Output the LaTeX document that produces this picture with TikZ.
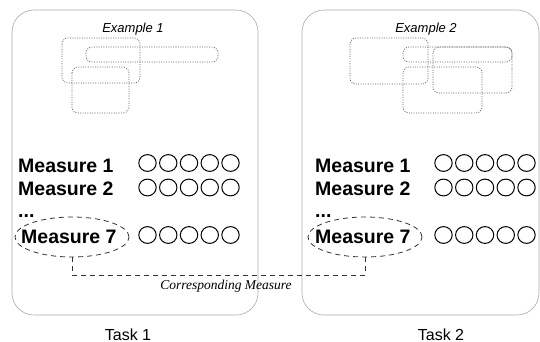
\documentclass[tikz,border=0pt]{standalone}
\usepackage{fontspec}
\setmainfont{Liberation Sans}
\newfontfamily\capfont{Liberation Serif}
\usepackage{tikz}
\usetikzlibrary{shapes.geometric, positioning, calc}
\definecolor{panelgray}{RGB}{170, 170, 170}
\definecolor{boxgray}{RGB}{95, 95, 95}
\definecolor{linkgray}{RGB}{50, 50, 50}

\begin{document}
\begin{tikzpicture}[x=1pt, y=-1pt,
    panel/.style={draw=panelgray, line width=0.6pt, rounded corners=22},
    region/.style={draw=boxgray, dash pattern=on 1pt off 1.4pt, line width=0.7pt, rounded corners=6},
    measure/.style={anchor=base west, inner sep=0pt, font=\fontsize{19.5}{20}\selectfont\bfseries},
    pick/.style={draw=black, line width=1pt},
    focus/.style={draw=linkgray, ellipse, dashed, dash pattern=on 5pt off 4pt, line width=0.8pt, inner sep=0pt, minimum width=114, minimum height=40}]
    \useasboundingbox (0,0) rectangle (540,342);
    % two task panels
    \draw[panel] (12,10) rectangle (258,315);
    \draw[panel] (302,10) rectangle (539,315);
    \node[anchor=base, font=\fontsize{13}{14}\selectfont\itshape] (ex1) at (133,33) {Example 1};
    \node[anchor=base, font=\fontsize{13}{14}\selectfont\itshape] (ex2) at (426,33) {Example 2};
    % regions of example 1
    \draw[region] (62,38) rectangle (140,83);
    \draw[region] (86,47) rectangle (218,62);
    \draw[region] (72,67) rectangle (129,113);
    % regions of example 2
    \draw[region] (350,38) rectangle (428,84);
    \draw[region] (403,47) rectangle (512,62);
    \draw[region] (433,47) rectangle (512,93);
    \draw[region] (403,67) rectangle (482,113);
    % measures
    \node[measure] (m11) at (18,172) {Measure 1};
    \node[measure] (m12) at (18,195) {Measure 2};
    \node[measure] (d1) at (18,217) {...};
    \node[measure] (m17) at (21,243) {Measure 7};
    \node[measure] (m21) at (315,172) {Measure 1};
    \node[measure] (m22) at (315,195) {Measure 2};
    \node[measure] (d2) at (315,217) {...};
    \node[measure] (m27) at (315,243) {Measure 7};
    % rating circles
    \foreach \y in {163, 187.5, 235} {
        \foreach \i in {0,...,4} {
            \draw[pick] (147.5+20.75*\i, \y) circle [x radius=8.7, y radius=8.4];
            \draw[pick] (443.5+20.75*\i, \y) circle [x radius=8.7, y radius=8.4];
        }
    }
    % corresponding measure
    \node[focus] (e1) at (72,237) {};
    \node[focus] (e2) at (365,237) {};
    \draw[linkgray, dashed, dash pattern=on 5pt off 4pt, line width=0.8pt] (e1.south) -- ++(0,18) -| (e2.south);
    \node[anchor=base, font=\capfont\fontsize{13.5}{14}\selectfont\itshape] (lnk) at (226,289) {Corresponding Measure};
    \node[anchor=base, font=\fontsize{16}{17}\selectfont] (t1) at (128,340) {Task 1};
    \node[anchor=base, font=\fontsize{16}{17}\selectfont] (t2) at (441,340) {Task 2};
\end{tikzpicture}
\end{document}
